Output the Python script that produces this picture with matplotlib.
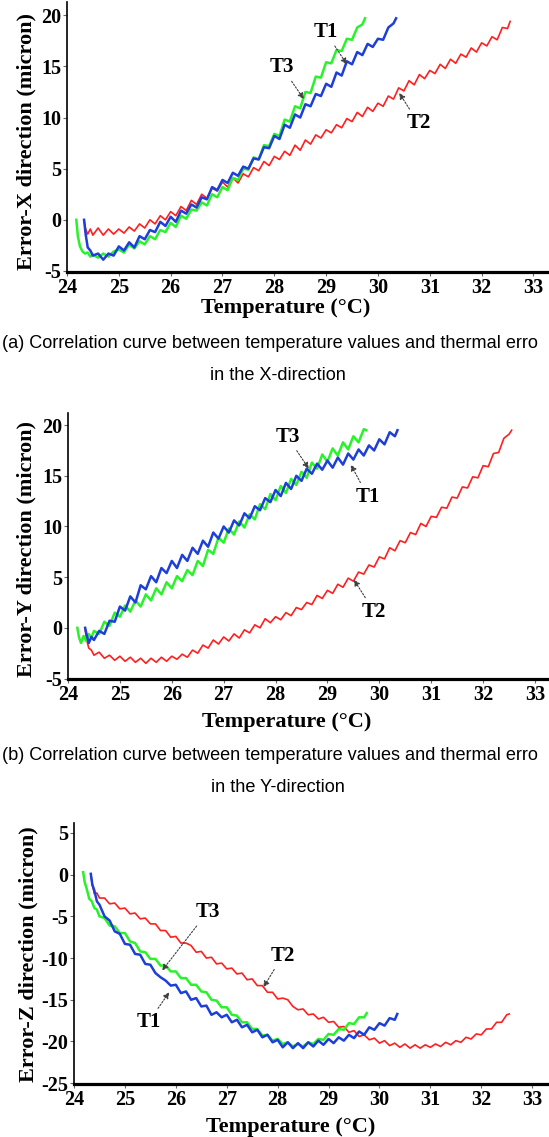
import matplotlib
matplotlib.use("Agg")
import matplotlib.pyplot as plt

W, H = 549, 1137

# temperature samples of the three test runs (deg C)
temp_t3 = [24.18, 24.21, 24.25, 24.30, 24.35, 24.40, 24.45,
           24.5, 24.6, 24.7, 24.8, 24.9,
           25.0, 25.1, 25.2, 25.3, 25.4, 25.5, 25.6, 25.7, 25.8, 25.9,
           26.0, 26.1, 26.2, 26.3, 26.4, 26.5, 26.6, 26.7, 26.8, 26.9,
           27.0, 27.1, 27.2, 27.3, 27.4, 27.5, 27.6, 27.7, 27.8, 27.9,
           28.0, 28.1, 28.2, 28.3, 28.4, 28.5, 28.6, 28.7, 28.8, 28.9,
           29.0, 29.1, 29.2, 29.3, 29.4, 29.5, 29.6, 29.7,
           29.75]
temp_t1 = [24.33, 24.36, 24.40, 24.45,
           24.5, 24.6, 24.7, 24.8, 24.9,
           25.0, 25.1, 25.2, 25.3, 25.4, 25.5, 25.6, 25.7, 25.8, 25.9,
           26.0, 26.1, 26.2, 26.3, 26.4, 26.5, 26.6, 26.7, 26.8, 26.9,
           27.0, 27.1, 27.2, 27.3, 27.4, 27.5, 27.6, 27.7, 27.8, 27.9,
           28.0, 28.1, 28.2, 28.3, 28.4, 28.5, 28.6, 28.7, 28.8, 28.9,
           29.0, 29.1, 29.2, 29.3, 29.4, 29.5, 29.6, 29.7, 29.8, 29.9,
           30.0, 30.1, 30.2, 30.3,
           30.35]
temp_t2 = [24.33, 24.36, 24.40, 24.45,
           24.5, 24.6, 24.7, 24.8, 24.9,
           25.0, 25.1, 25.2, 25.3, 25.4, 25.5, 25.6, 25.7, 25.8, 25.9,
           26.0, 26.1, 26.2, 26.3, 26.4, 26.5, 26.6, 26.7, 26.8, 26.9,
           27.0, 27.1, 27.2, 27.3, 27.4, 27.5, 27.6, 27.7, 27.8, 27.9,
           28.0, 28.1, 28.2, 28.3, 28.4, 28.5, 28.6, 28.7, 28.8, 28.9,
           29.0, 29.1, 29.2, 29.3, 29.4, 29.5, 29.6, 29.7, 29.8, 29.9,
           30.0, 30.1, 30.2, 30.3, 30.4, 30.5, 30.6, 30.7, 30.8, 30.9,
           31.0, 31.1, 31.2, 31.3, 31.4, 31.5, 31.6, 31.7, 31.8, 31.9,
           32.0, 32.1, 32.2, 32.3, 32.4, 32.5,
           32.55]

# X-direction error (micron)
errx_t3 = [0.0, -1.6, -2.6, -3.1, -3.3, -3.2, -3.6,
           -3.4, -3.7, -3.3, -3.6, -3.1,
           -2.9, -3.2, -2.4, -2.8, -2.1, -2.4, -1.6, -1.9, -1.0, -1.2,
           -0.3, -0.7, 0.4, 0.1, 1.0, 0.9, 1.7, 1.4, 2.5, 2.2,
           3.2, 2.9, 4.1, 3.9, 5.0, 4.9, 6.1, 5.9, 7.3, 7.2,
           8.4, 8.2, 9.8, 9.6, 11.1, 10.9, 12.5, 12.4, 14.0, 13.9,
           15.4, 15.3, 16.6, 16.5, 17.7, 17.6, 18.8, 19.1,
           19.7]
errx_t1 = [0.0, -1.4, -2.7, -3.0,
           -3.5, -3.3, -3.9, -3.3, -3.5,
           -2.6, -3.0, -2.2, -2.7, -1.6, -1.9, -1.0, -1.2, -0.2, -0.6,
           0.3, -0.2, 0.9, 0.6, 1.5, 1.2, 2.2, 2.0, 3.2, 2.9,
           3.9, 3.6, 4.6, 4.3, 5.2, 5.0, 6.0, 5.9, 7.1, 7.0,
           8.2, 7.9, 9.3, 9.0, 10.3, 10.0, 11.3, 11.1, 12.3, 12.1,
           13.3, 13.0, 14.4, 14.1, 15.5, 15.2, 16.4, 16.1, 17.2, 16.9,
           17.7, 17.6, 18.8, 19.2,
           19.7]
errx_t2 = [-0.1, -0.9, -1.4, -0.9,
           -1.5, -0.8, -1.5, -0.9, -1.4,
           -0.9, -1.3, -0.7, -1.1, -0.4, -0.8, 0.0, -0.4, 0.4, 0.0,
           0.8, 0.4, 1.3, 0.9, 1.9, 1.5, 2.5, 2.1, 3.1, 2.8,
           3.7, 3.2, 4.1, 3.6, 4.5, 4.2, 5.1, 4.8, 5.7, 5.3,
           6.2, 5.9, 6.7, 6.3, 7.3, 6.8, 7.8, 7.4, 8.3, 8.0,
           8.8, 8.5, 9.3, 9.0, 9.9, 9.6, 10.5, 10.1, 11.0, 10.6,
           11.4, 11.1, 12.1, 11.8, 12.9, 12.6, 13.6, 13.2, 14.2, 13.8,
           14.6, 14.3, 15.2, 14.8, 15.7, 15.3, 16.2, 15.9, 16.8, 16.4,
           17.3, 17.0, 17.9, 17.6, 18.8, 18.7,
           19.4]

# Y-direction error (micron)
erry_t3 = [0.0, -0.9, -1.5, -0.8, -1.3, -0.6, -1.0,
           -0.3, -0.6, 0.6, 0.2, 1.5,
           1.1, 2.2, 1.6, 2.7, 2.1, 3.3, 2.7, 3.9, 3.3, 4.5,
           3.9, 5.1, 4.6, 5.7, 5.2, 6.6, 6.1, 7.7, 7.3, 8.9,
           8.4, 9.8, 9.2, 10.5, 9.9, 11.2, 10.7, 12.2, 11.7, 13.2,
           12.6, 14.0, 13.3, 14.7, 14.1, 15.4, 14.8, 16.3, 15.7, 17.1,
           16.4, 17.7, 17.0, 18.3, 17.6, 18.9, 18.3, 19.6,
           19.5]
erry_t1 = [0.0, -0.7, -1.5, -0.9,
           -1.2, -0.3, -0.6, 0.7, 0.6,
           2.1, 1.7, 3.1, 2.5, 4.2, 3.8, 5.1, 4.5, 5.9, 5.4,
           6.6, 5.9, 7.2, 6.6, 7.9, 7.3, 8.6, 8.0, 9.4, 8.8,
           10.0, 9.4, 10.6, 10.1, 11.3, 10.8, 12.0, 11.6, 12.8, 12.4,
           13.6, 13.0, 14.3, 13.7, 15.0, 14.5, 15.7, 15.2, 16.2, 15.6,
           16.5, 15.8, 16.8, 16.1, 17.2, 16.6, 17.6, 17.0, 18.0, 17.5,
           18.6, 18.1, 19.3, 18.9,
           19.5]
erry_t2 = [-0.2, -1.2, -2.0, -2.2,
           -2.7, -2.4, -3.0, -2.7, -3.2,
           -2.8, -3.3, -2.9, -3.4, -3.0, -3.5, -3.0, -3.4, -2.9, -3.3,
           -2.8, -3.1, -2.6, -2.9, -2.2, -2.5, -1.7, -2.0, -1.2, -1.6,
           -0.9, -1.3, -0.6, -1.0, -0.2, -0.5, 0.3, 0.0, 0.9, 0.5,
           1.1, 0.8, 1.5, 1.2, 2.0, 1.8, 2.5, 2.3, 3.2, 2.9,
           3.7, 3.4, 4.3, 4.0, 4.9, 4.6, 5.5, 5.3, 6.2, 6.0,
           7.0, 6.8, 7.9, 7.6, 8.6, 8.4, 9.4, 9.2, 10.3, 10.0,
           11.0, 10.9, 11.9, 11.8, 12.9, 12.8, 13.9, 13.8, 14.9, 14.8,
           16.0, 15.9, 17.2, 17.3, 18.7, 19.1,
           19.5]

# Z-direction error (micron)
errz_t3 = [0.3, -0.9, -1.7, -2.9, -3.2, -4.0, -4.2,
           -5.0, -5.2, -6.1, -6.2, -7.0,
           -7.0, -8.0, -8.2, -9.2, -9.3, -10.1, -10.1, -10.9, -10.9, -11.6,
           -11.6, -12.4, -12.4, -13.2, -13.2, -14.0, -14.1, -15.0, -15.1, -15.9,
           -15.9, -16.8, -16.9, -17.7, -17.7, -18.5, -18.5, -19.3, -19.2, -19.9,
           -19.7, -20.3, -20.1, -20.6, -20.3, -20.6, -20.1, -20.3, -19.7, -19.8,
           -19.1, -19.2, -18.5, -18.6, -17.8, -17.9, -17.1, -17.1,
           -16.6]
errz_t1 = [0.1, -1.2, -1.9, -3.2,
           -3.6, -5.0, -5.5, -6.8, -7.1,
           -8.3, -8.4, -9.5, -9.6, -10.7, -10.8, -11.8, -12.3, -12.7, -13.3,
           -13.2, -14.2, -14.0, -15.0, -14.8, -15.8, -15.7, -16.8, -16.5, -17.1,
           -16.8, -17.7, -17.4, -18.3, -18.0, -18.9, -18.6, -19.5, -19.2, -20.1,
           -19.8, -20.7, -20.1, -20.8, -20.2, -20.8, -20.1, -20.6, -19.9, -20.4,
           -19.7, -20.2, -19.5, -19.9, -19.2, -19.6, -18.8, -19.2, -18.3, -18.6,
           -17.8, -18.1, -17.2, -17.4,
           -16.7]
errz_t2 = [0.0, -1.2, -2.3, -2.2,
           -2.8, -2.8, -3.5, -3.4, -4.1,
           -4.0, -4.7, -4.6, -5.3, -5.2, -5.9, -5.9, -6.7, -6.7, -7.5,
           -7.4, -8.2, -8.2, -8.5, -9.3, -9.2, -10.0, -9.9, -10.7, -10.6,
           -11.3, -11.2, -11.9, -11.8, -12.6, -12.5, -13.3, -13.3, -14.1, -14.1,
           -14.9, -14.8, -15.0, -15.8, -16.2, -16.1, -16.8, -16.7, -17.3, -17.1,
           -17.7, -17.6, -18.3, -18.2, -18.9, -18.7, -19.4, -19.2, -19.8, -19.6,
           -20.2, -19.9, -20.5, -20.2, -20.7, -20.3, -20.8, -20.4, -20.8, -20.4,
           -20.7, -20.3, -20.6, -20.1, -20.4, -19.9, -20.1, -19.5, -19.7, -19.1,
           -19.2, -18.5, -18.5, -17.7, -17.7, -16.8,
           -16.7]

x_ticks = [24, 25, 26, 27, 28, 29, 30, 31, 32, 33]
yticks_x = [-5, 0, 5, 10, 15, 20]
yticks_y = [-5, 0, 5, 10, 15, 20]
yticks_z = [-25, -20, -15, -10, -5, 0, 5]

ylabels = ["Error-X direction (micron)", "Error-Y direction (micron)",
           "Error-Z direction (micron)"]
captions = [("(a) Correlation curve between temperature values and thermal erro",
             "in the X-direction"),
            ("(b) Correlation curve between temperature values and thermal erro",
             "in the Y-direction")]

# annotation: label, text position, arrow tip (data coords)
notes_x = [("T1", (28.99, 18.35), (29.40, 15.2)),
           ("T3", (28.15, 14.9), (28.57, 11.8)),
           ("T2", (30.78, 9.46), (30.41, 12.4))]
notes_y = [("T3", (28.23, 18.85), (28.64, 15.7)),
           ("T1", (29.78, 12.95), (29.45, 16.1)),
           ("T2", (29.90, 1.6), (29.51, 4.75))]
notes_z = [("T3", (26.62, -4.5), (25.73, -11.5)),
           ("T2", (28.10, -9.7), (27.72, -13.5)),
           ("T1", (25.46, -17.7), (25.87, -14.1))]

RED = "#ff1f1f"
GREEN = "#2af22a"
BLUE = "#1d3fd8"
SERIF = "Liberation Serif"
plt.rcParams["axes.unicode_minus"] = False

fig = plt.figure(figsize=(W / 100, H / 100), dpi=100)


def px(x, y):
    return x / W, 1 - y / H


def draw_panel(rect, y1, y2, y3, yticks, ylim, xlim, notes):
    ax = fig.add_axes(rect)
    ax.plot(temp_t2, y2, color=RED, lw=1.2)
    ax.plot(temp_t3, y3, color=GREEN, lw=1.8)
    ax.plot(temp_t1, y1, color=BLUE, lw=1.8)
    ax.set_xlim(*xlim)
    ax.set_ylim(*ylim)
    ax.set_xticks(x_ticks)
    ax.set_yticks(yticks)
    for s in ["top", "right"]:
        ax.spines[s].set_visible(False)
    ax.spines["left"].set_linewidth(1.2)
    ax.spines["bottom"].set_linewidth(2.3)
    ax.tick_params(length=3, width=0.8, color="0.4")
    ax.tick_params(axis="x", pad=1.5)
    ax.tick_params(axis="y", pad=1)
    for lab in ax.get_xticklabels() + ax.get_yticklabels():
        lab.set_fontfamily(SERIF)
        lab.set_fontweight("bold")
        lab.set_fontsize(14.5)
    for name, txt, tip in notes:
        ax.annotate(name, xy=tip, xytext=txt, ha="center", va="center",
                    fontsize=15, fontweight="bold", family=SERIF,
                    arrowprops=dict(arrowstyle="-|>", color="0.25", lw=0.8,
                                    ls=(0, (1.5, 1.5)), shrinkA=1, shrinkB=0,
                                    mutation_scale=9))
    return ax


draw_panel([0.1220, 0.7608, 0.8780, 0.2375], errx_t1, errx_t2, errx_t3,
           yticks_x, (-5.1, 21.3), (24, 33.3), notes_x)
draw_panel([0.1239, 0.4028, 0.8761, 0.2340], erry_t1, erry_t2, erry_t3,
           yticks_y, (-5.05, 21.2), (24, 33.27), notes_y)
draw_panel([0.1348, 0.0466, 0.8652, 0.2296], errz_t1, errz_t2, errz_t3,
           yticks_z, (-25.1, 6.2), (24, 33.33), notes_z)

# axis titles
label_kw = dict(family=SERIF, fontweight="bold", fontsize=16, ha="center", va="center")
for (x, y), txt in zip([(26, 142), (26, 549), (28, 954)], ylabels):
    fig.text(*px(x, y), txt, rotation=90, **label_kw)
for (x, y) in [(286, 308), (287, 722), (291, 1127)]:
    fig.text(*px(x, y), "Temperature (\u00b0C)", **label_kw)

# captions below the first two panels
cap_kw = dict(family="Liberation Sans", fontsize=13.1, va="center")
for (l1, l2), y1, y2 in zip(captions, [344, 756], [376, 787]):
    fig.text(*px(2, y1), l1, ha="left", **cap_kw)
    fig.text(*px(278, y2), l2, ha="center", **cap_kw)

fig.savefig("out.png", dpi=100)
